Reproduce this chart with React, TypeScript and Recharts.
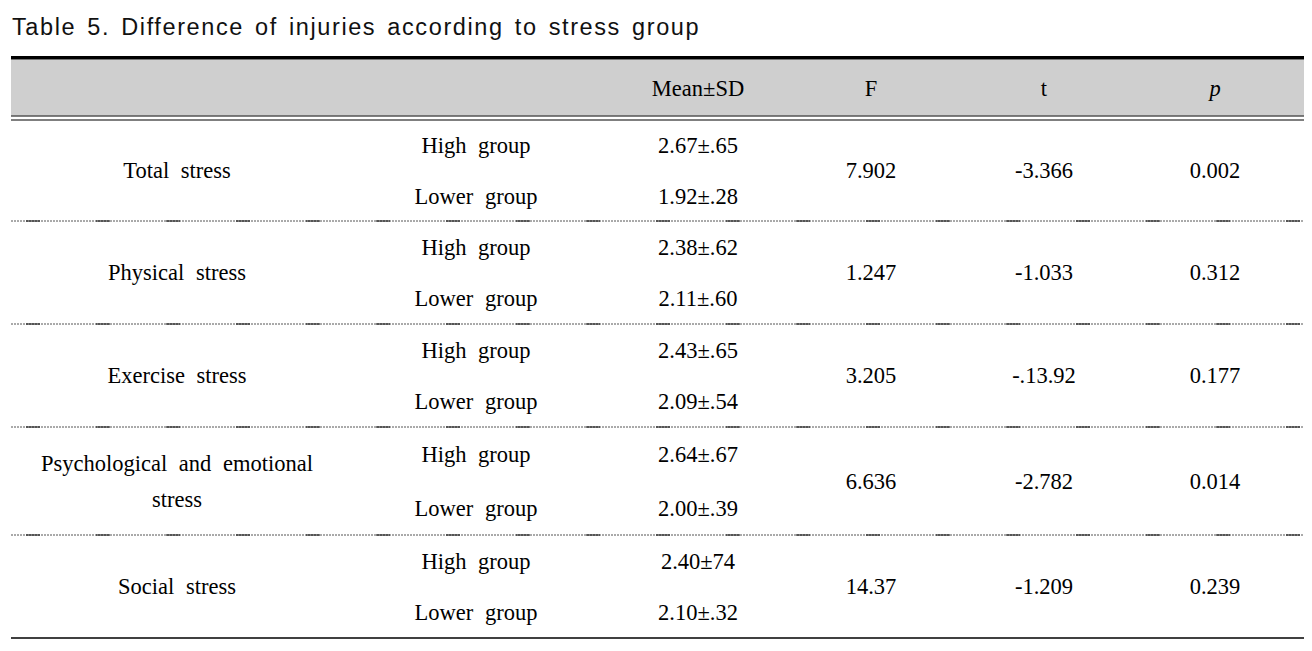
import React from 'react';
import { ScatterChart, Scatter, XAxis, YAxis, ReferenceLine, ReferenceArea } from 'recharts';

// ---- data ----
const TITLE = 'Table 5. Difference of injuries according to stress group';
const HEADERS = ['', '', 'Mean±SD', 'F', 't', 'p'];
const CATEGORIES = ['Total stress', 'Physical stress', 'Exercise stress', 'Psychological and emotional stress', 'Social stress'];
const GROUPS = ['High group', 'Lower group'];
const MEAN_HIGH = ['2.67±.65', '2.38±.62', '2.43±.65', '2.64±.67', '2.40±74'];
const MEAN_LOW = ['1.92±.28', '2.11±.60', '2.09±.54', '2.00±.39', '2.10±.32'];
const F_VALUES = ['7.902', '1.247', '3.205', '6.636', '14.37'];
const T_VALUES = ['-3.366', '-1.033', '-.13.92', '-2.782', '-1.209'];
const P_VALUES = ['0.002', '0.312', '0.177', '0.014', '0.239'];

// ---- layout ----
const W = 1312;
const H = 651;
const COL_X = [177, 476, 698, 871, 1044, 1215];
const ROW_EDGES = [120, 221, 324, 427, 535, 638];
const SUB_OFFSET = [25.5, 25.5, 25.5, 27, 25.5];
const HEADER_Y = 88;
const LEFT = 11;
const RIGHT = 1304;
const TITLE_POS = { x: 12, y: 26 };

type Cell = { x: number; y: number; label: string; kind: string; italic?: boolean };

const headerCells: Cell[] = HEADERS.map((h, i) => ({ x: COL_X[i], y: HEADER_Y, label: h, kind: 'body', italic: i === 5 })).filter((c) => c.label);

const bodyCells: Cell[] = [];
CATEGORIES.forEach((cat, r) => {
  const c = (ROW_EDGES[r] + ROW_EDGES[r + 1]) / 2;
  const o = SUB_OFFSET[r];
  bodyCells.push({ x: COL_X[0], y: c, label: cat, kind: 'cat' });
  bodyCells.push({ x: COL_X[1], y: c - o, label: GROUPS[0], kind: 'group' });
  bodyCells.push({ x: COL_X[1], y: c + o, label: GROUPS[1], kind: 'group' });
  bodyCells.push({ x: COL_X[2], y: c - o, label: MEAN_HIGH[r], kind: 'body' });
  bodyCells.push({ x: COL_X[2], y: c + o, label: MEAN_LOW[r], kind: 'body' });
  bodyCells.push({ x: COL_X[3], y: c, label: F_VALUES[r], kind: 'body' });
  bodyCells.push({ x: COL_X[4], y: c, label: T_VALUES[r], kind: 'body' });
  bodyCells.push({ x: COL_X[5], y: c, label: P_VALUES[r], kind: 'body' });
});

const titleCells: Cell[] = [{ x: TITLE_POS.x, y: TITLE_POS.y, label: TITLE, kind: 'title' }];

const wrap = (s: string, max: number) => {
  const words = s.split(' ');
  const lines: string[] = [];
  let cur = '';
  words.forEach((w) => {
    const next = cur ? cur + ' ' + w : w;
    if (next.length > max && cur) {
      lines.push(cur);
      cur = w;
    } else cur = next;
  });
  if (cur) lines.push(cur);
  return lines;
};

const SERIF = '"Liberation Serif", "Times New Roman", serif';

const CellShape = (props: any) => {
  const { cx, cy, payload } = props;
  if (payload.kind === 'title') {
    return (
      <text x={cx} y={cy + 8.5} textAnchor="start" fontFamily='"Liberation Sans", Arial, sans-serif' fontSize={23.5} letterSpacing={1.6} wordSpacing={3} fill="#111">
        {payload.label}
      </text>
    );
  }
  const lines = wrap(payload.label, 28);
  const lh = 36;
  const y0 = cy - ((lines.length - 1) * lh) / 2;
  return (
    <g>
      {lines.map((ln, i) => (
        <text
          key={i}
          x={cx}
          y={y0 + i * lh + 7.5}
          textAnchor="middle"
          fontFamily={SERIF}
          fontSize={22.5}
          fontStyle={payload.italic ? 'italic' : 'normal'}
          wordSpacing={payload.kind === 'body' ? 0 : 6}
          fill="#000"
        >
          {ln}
        </text>
      ))}
    </g>
  );
};

export default function App() {
  return (
    <div style={{ position: 'absolute', left: 0, top: 0, width: W, height: H, background: '#fff' }}>
      <ScatterChart width={W} height={H} margin={{ top: 0, right: 0, bottom: 0, left: 0 }}>
        <XAxis type="number" dataKey="x" domain={[0, W]} hide allowDataOverflow />
        <YAxis type="number" dataKey="y" domain={[0, H]} reversed hide width={0} allowDataOverflow />
        <ReferenceArea x1={LEFT} x2={RIGHT} y1={59.5} y2={115.5} fill="#cfcfcf" fillOpacity={1} stroke="none" ifOverflow="visible" />
        <ReferenceArea x1={LEFT} x2={RIGHT} y1={56} y2={59.5} fill="#000" fillOpacity={1} stroke="none" ifOverflow="visible" />
        <ReferenceLine segment={[{ x: LEFT, y: 116 }, { x: RIGHT, y: 116 }]} stroke="#000" strokeWidth={1.2} ifOverflow="visible" />
        <ReferenceLine segment={[{ x: LEFT, y: 120 }, { x: RIGHT, y: 120 }]} stroke="#000" strokeWidth={1.2} ifOverflow="visible" />
        {ROW_EDGES.slice(1, -1).map((e) => (
          <ReferenceLine key={'d' + e} segment={[{ x: LEFT, y: e }, { x: RIGHT, y: e }]} stroke="#555" strokeWidth={1} strokeDasharray="2 1" ifOverflow="visible" />
        ))}
        {ROW_EDGES.slice(1, -1).map((e) => (
          <ReferenceLine key={'s' + e} segment={[{ x: LEFT, y: e }, { x: RIGHT, y: e }]} stroke="#000" strokeWidth={1} strokeDasharray="14 56" strokeDashoffset={55} ifOverflow="visible" />
        ))}
        <ReferenceLine segment={[{ x: LEFT, y: ROW_EDGES[ROW_EDGES.length - 1] }, { x: RIGHT, y: ROW_EDGES[ROW_EDGES.length - 1] }]} stroke="#000" strokeWidth={1.5} ifOverflow="visible" />
        <Scatter data={titleCells} shape={CellShape} isAnimationActive={false} />
        <Scatter data={headerCells} shape={CellShape} isAnimationActive={false} />
        <Scatter data={bodyCells} shape={CellShape} isAnimationActive={false} />
      </ScatterChart>
    </div>
  );
}
